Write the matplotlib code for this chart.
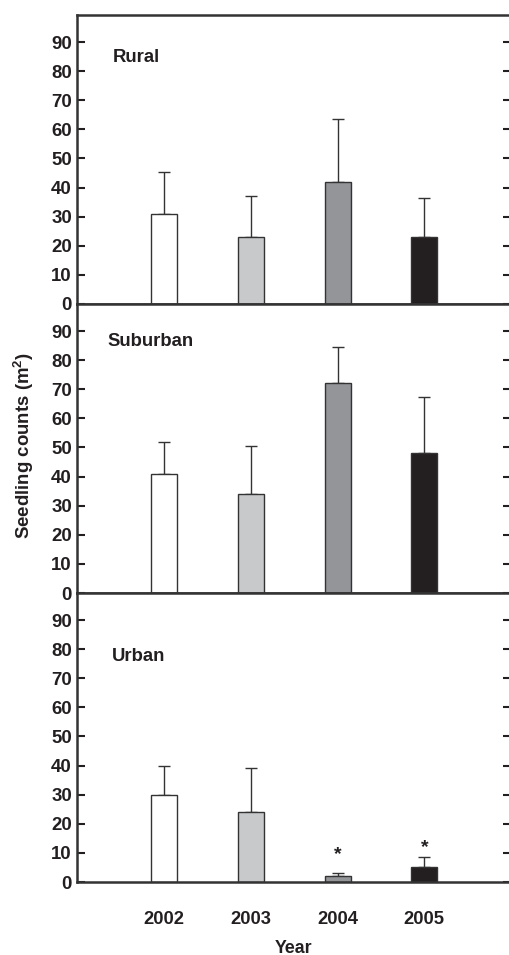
import matplotlib
matplotlib.use("Agg")
import matplotlib.pyplot as plt
import numpy as np

years = ["2002", "2003", "2004", "2005"]
panels = ["Rural", "Suburban", "Urban"]
means = {
    "Rural":    [31, 23, 42, 23],
    "Suburban": [41, 34, 72, 48],
    "Urban":    [30, 24, 2, 5],
}
err_top = {
    "Rural":    [45.2, 37.2, 63.5, 36.5],
    "Suburban": [52, 50.5, 84.5, 67.5],
    "Urban":    [40, 39, 3, 8.5],
}
# asterisk marks (significance) in the Urban panel: y position of each mark
star_y = {"Urban": [None, None, 9.3, 11.8]}
bar_colors = ["#ffffff", "#c8c9cb", "#939598", "#231f20"]
yticks = [0, 10, 20, 30, 40, 50, 60, 70, 80, 90]

plt.rcParams['font.family'] = ['Liberation Sans', 'DejaVu Sans']
plt.rcParams['font.weight'] = 'bold'
plt.rcParams['mathtext.fontset'] = 'custom'
plt.rcParams['mathtext.bf'] = 'Liberation Sans:bold'
plt.rcParams['mathtext.rm'] = 'Liberation Sans:bold'
plt.rcParams['mathtext.default'] = 'bf'

TXT = "#231f20"
fig = plt.figure(figsize=(5.10, 9.55), dpi=100)
W, H = 510, 955
left, right = 77.5, 511
tops = [15, 304, 593]
ph = 289
label_pos = {"Rural": (0.405, 84.6), "Suburban": (0.34, 86.4), "Urban": (0.395, 77.4)}

x = np.arange(1, 5)
for i, name in enumerate(panels):
    ax = fig.add_axes([left / W, 1 - (tops[i] + ph) / H, (right - left) / W, ph / H])
    m = means[name]
    e = np.array(err_top[name]) - np.array(m)
    ax.bar(x, m, width=0.3, color=bar_colors, edgecolor="#333333", linewidth=1.0, zorder=2)
    ax.errorbar(x, m, yerr=[np.zeros(4), e], fmt="none", ecolor="#333333",
                elinewidth=1.0, capsize=4, capthick=1.0, zorder=1)
    ax.set_xlim(0, 5)
    ax.set_ylim(0, 99.3)
    ax.set_yticks(yticks)
    ax.tick_params(axis="y", direction="in", length=6, width=1.5, labelsize=13.4,
                   right=True, left=True, pad=4, color=TXT, labelcolor=TXT)
    for lbl in ax.get_yticklabels():
        lbl.set_fontweight("bold")
    ax.tick_params(axis="x", length=0)
    for s in ["left", "bottom", "top", "right"]:
        ax.spines[s].set_linewidth(1.8)
        ax.spines[s].set_color("#333333")
    lx, ly = label_pos[name]
    ax.text(lx, ly, name, fontsize=13.3, fontweight="bold", va="center", ha="left", color=TXT)
    if name in star_y:
        for xi, sy in zip(x, star_y[name]):
            if sy is not None:
                ax.text(xi, sy, "*", ha="center", va="center", fontsize=14,
                        fontweight="bold", color=TXT)
    if i < 2:
        ax.set_xticks([])
    else:
        ax.set_xticks(x)
        ax.set_xticklabels(years, fontsize=13.2, fontweight="bold", color=TXT)
        ax.tick_params(axis="x", pad=21)

fig.text(24 / W, 1 - 446 / H, "Seedling counts (m$^{2}$)", rotation=90,
         ha="center", va="center", fontsize=13.4, fontweight="bold", color=TXT)
fig.text(294 / W, 1 - 948 / H, "Year", ha="center", va="center", fontsize=12.8,
         fontweight="bold", color=TXT)

fig.savefig("out.png", dpi=100)
